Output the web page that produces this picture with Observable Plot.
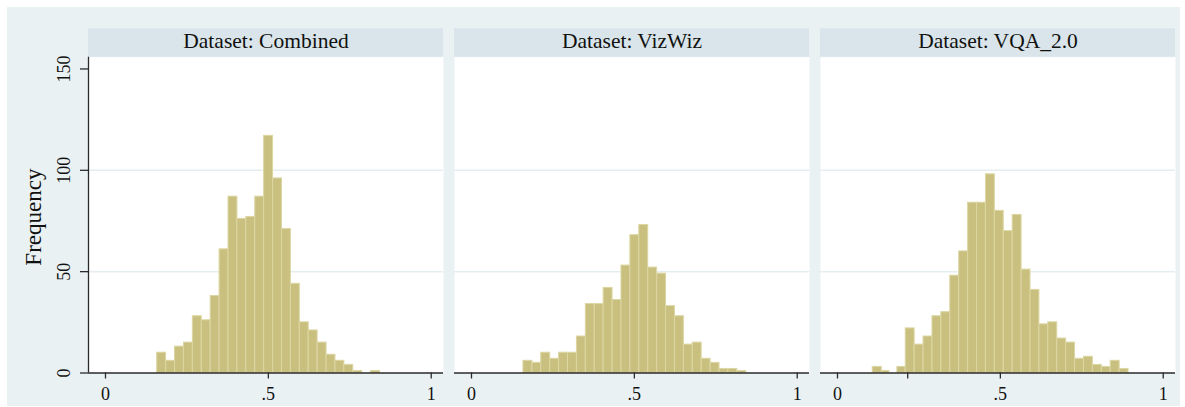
<!DOCTYPE html>
<html><head><meta charset="utf-8">
<script src="https://cdn.jsdelivr.net/npm/d3@7"></script>
<script src="https://cdn.jsdelivr.net/npm/@observablehq/plot@0.6"></script>
<style>
html,body{margin:0;padding:0;background:#fff;}
#chart{position:absolute;left:7px;top:7px;}
#chart svg{display:block;}
</style></head><body><div id="chart"></div>
<script>
// ---- data ----
const datasets = ["Combined", "VizWiz", "VQA_2.0"];
const binWidth = 0.02736;
const combinedStart = 0.1588;
const combinedFreq = [10, 6, 13, 15, 28, 26, 38, 61, 87, 76, 77, 87, 117, 96, 71, 44, 25, 21, 15, 9, 6, 4, 1, 0, 1];
const vizwizStart = 0.1595;
const vizwizFreq = [6, 5, 10, 7, 10, 10, 18, 34, 34, 42, 36, 53, 68, 73, 52, 49, 33, 28, 14, 15, 7, 5, 2, 2, 1];
const vqaStart = 0.2095;
const vqaFreq = [22, 14, 18, 28, 30, 48, 60, 84, 84, 98, 80, 70, 78, 51, 41, 24, 25, 17, 15, 7, 8, 4, 3, 6, 2];
const vqaExtraX1 = [0.1083, 0.1359, 0.1840];
const vqaExtraX2 = [0.1359, 0.1595, 0.2095];
const vqaExtraFreq = [3, 1, 3];
const xTicks = [0, 0.5, 1];
const xTickLabels = ["0", ".5", "1"];
const vqaMinorTick = [0.2156];
const yTicks = [0, 50, 100, 150];
const yTickLabels = ["0", "50", "100", "150"];
const gridValues = [50, 100];
const yLabel = "Frequency";
const headerPrefix = "Dataset: ";

// ---- build table ----
function binsFrom(name, start, freq) {
  return freq.map((f, i) => ({dataset: name, x1: start + i * binWidth, x2: start + (i + 1) * binWidth, freq: f}));
}
const bars = [
  ...binsFrom("Combined", combinedStart, combinedFreq),
  ...binsFrom("VizWiz", vizwizStart, vizwizFreq),
  ...vqaExtraFreq.map((f, i) => ({dataset: "VQA_2.0", x1: vqaExtraX1[i], x2: vqaExtraX2[i], freq: f})),
  ...binsFrom("VQA_2.0", vqaStart, vqaFreq)
].filter(d => d.freq > 0);

// ---- layout ----
const W = 1173, H = 399;
const mL = 81, mR = 4, mT = 49.7, mB = 33.5;
const yMax = 155.8;
const pxPerUnit = (H - mB - mT) / yMax;
const headerPx = 28.4;
const xDomain = [-0.05215, 1.0377];
const axisColor = "#2a2a2a";
const textColor = "#111";
const bg = "#eaf1f3";

const chart = Plot.plot({
  width: W, height: H,
  marginLeft: mL, marginRight: mR, marginTop: mT, marginBottom: mB,
  style: {background: bg, fontFamily: "'Liberation Serif', 'Times New Roman', serif"},
  fx: {domain: datasets, paddingInner: 11 / 366.3, paddingOuter: 0, axis: null, label: null},
  x: {domain: xDomain},
  y: {domain: [0, yMax]},
  marks: [
    Plot.frame({fill: "white", stroke: "none"}),
    Plot.rect(datasets, {fx: d => d, x1: xDomain[0], x2: xDomain[1], y1: yMax, y2: yMax + headerPx / pxPerUnit, fill: "#d9e5ea"}),
    Plot.ruleY(gridValues, {stroke: "#e5edf0", strokeWidth: 1.5}),
    Plot.rect(bars, {fx: "dataset", x1: "x1", x2: "x2", y1: 0, y2: "freq", fill: "#c9c07f", stroke: "#dcd6a3", strokeWidth: 1}),
    Plot.ruleY([0], {stroke: axisColor, strokeWidth: 1.3}),
    Plot.ruleX([xDomain[0]], {fx: () => "Combined", x: d => d, y1: 0, y2: yMax, stroke: axisColor, strokeWidth: 1.3}),
    Plot.axisY({ticks: yTicks, tickSize: 8, tickFormat: () => "", label: null, stroke: axisColor, strokeWidth: 1.3}),
    Plot.text(yTicks, {fx: () => "Combined", y: d => d, text: (d, i) => yTickLabels[i], frameAnchor: "left", dx: -24, rotate: -90, textAnchor: "middle", lineAnchor: "middle", fontSize: 18, fill: textColor}),
    Plot.text([yLabel], {fx: () => "Combined", text: d => d, frameAnchor: "left", dx: -55, dy: 2, rotate: -90, textAnchor: "middle", lineAnchor: "middle", fontSize: 23, fill: textColor}),
    Plot.axisX({ticks: xTicks, tickFormat: d => xTickLabels[xTicks.indexOf(d)], tickSize: 6, tickPadding: 8, fontSize: 18, label: null, stroke: axisColor, strokeWidth: 1.3, fill: textColor}),
    Plot.ruleX(vqaMinorTick, {fx: () => "VQA_2.0", x: d => d, y1: 0, y2: -6 / pxPerUnit, stroke: axisColor, strokeWidth: 1.3}),
    Plot.text(datasets, {fx: d => d, text: d => headerPrefix + d, frameAnchor: "top", dy: -15.7, lineAnchor: "middle", fontSize: 21.5, fill: textColor})
  ]
});
document.getElementById("chart").appendChild(chart);
</script>
</body></html>
